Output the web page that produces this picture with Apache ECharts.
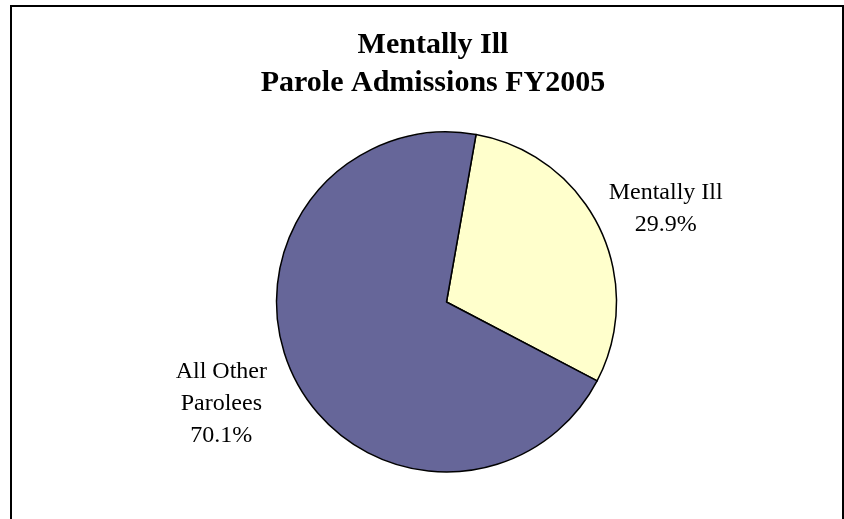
<!DOCTYPE html>
<html>
<head>
<meta charset="utf-8">
<script src="https://cdn.jsdelivr.net/npm/echarts@6/dist/echarts.min.js"></script>
<style>
html,body{margin:0;padding:0;background:#fff;}
#chart{width:844px;height:519px;}
</style>
</head>
<body>
<div id="chart"></div>
<script>
// 饼图数据
var categories = ['Mentally Ill', 'All Other\nParolees'];
var values = [29.9, 70.1];
var colors = ['#FFFFCC', '#666699'];

var myChart = echarts.init(document.getElementById('chart'));
var serif = '"Liberation Serif", "Times New Roman", serif';

var pieData = [];
for (var i = 0; i < categories.length; i++) {
    pieData.push({
        name: categories[i],
        value: values[i],
        itemStyle: { color: colors[i] }
    });
}

var option = {
    backgroundColor: '#fff',
    animation: false,
    title: {
        text: 'Mentally Ill\nParole Admissions FY2005',
        left: 433,
        top: 26,
        padding: 0,
        textAlign: 'center',
        textStyle: {
            fontFamily: serif,
            fontSize: 30,
            fontWeight: 'bold',
            lineHeight: 38,
            color: '#000'
        }
    },
    graphic: [{
        type: 'rect',
        shape: { x: 11, y: 6, width: 832, height: 530 },
        style: { fill: 'none', stroke: '#000', lineWidth: 2 },
        silent: true
    }],
    series: [{
        type: 'pie',
        center: [446.5, 302],
        radius: 170,
        startAngle: 80,
        clockwise: true,
        avoidLabelOverlap: false,
        itemStyle: { borderColor: '#000', borderWidth: 1.5 },
        label: {
            show: true,
            position: 'outside',
            distanceToLabelLine: 0,
            fontFamily: serif,
            fontSize: 24,
            lineHeight: 32,
            color: '#000',
            formatter: function (p) {
                return p.name + '\n' + p.percent.toFixed(1) + '%';
            }
        },
        labelLine: { show: false, length: 72, length2: 0 },
        // Excel 的标签位置略有偏移，这里微调
        labelLayout: function (params) {
            if (params.dataIndex === 0) {
                return { align: 'center', verticalAlign: 'middle', dx: 2, dy: 13 };
            }
            return { align: 'center', verticalAlign: 'middle', dx: -8, dy: -5 };
        },
        data: pieData
    }]
};

myChart.setOption(option);
</script>
</body>
</html>
